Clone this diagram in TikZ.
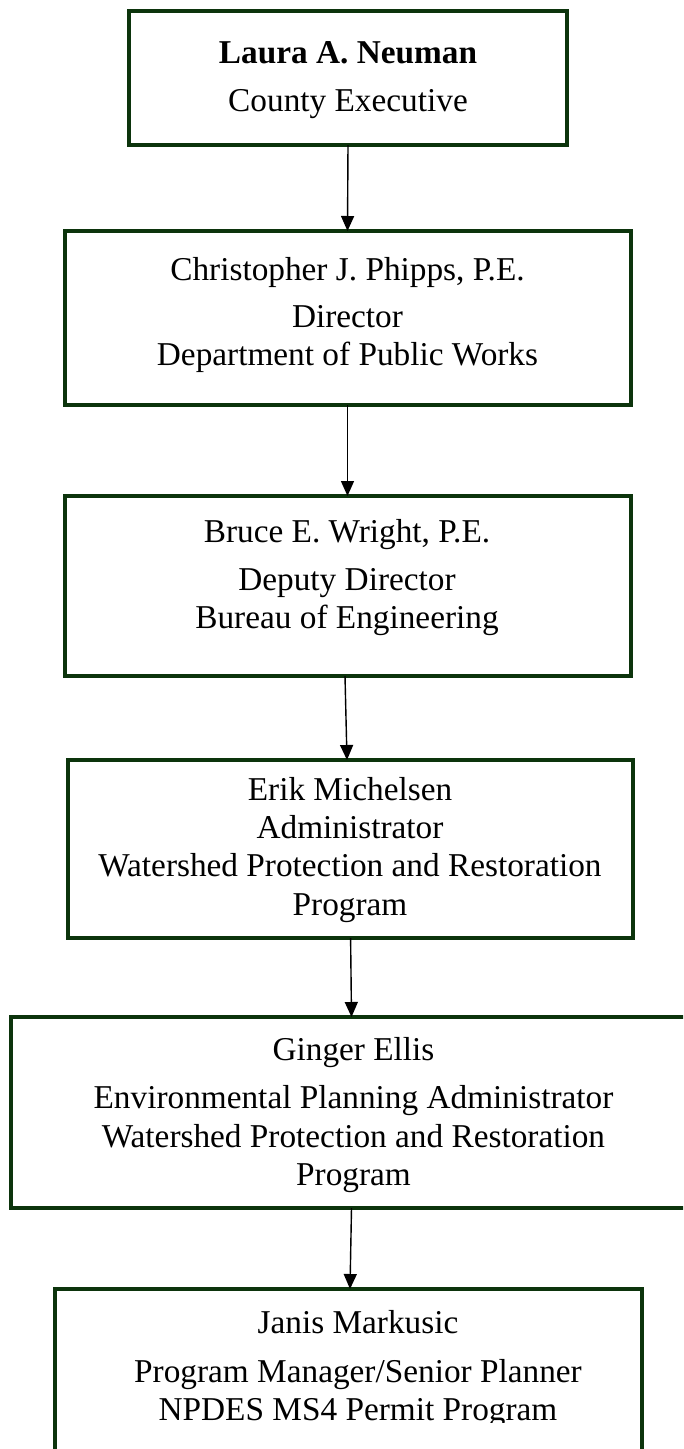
\documentclass[tikz,border=0pt]{standalone}
\usepackage{fontspec}
\setmainfont{Liberation Serif}
\usetikzlibrary{arrows.meta,calc}
\definecolor{boxgreen}{RGB}{12,52,12}
\begin{document}
\begin{tikzpicture}[x=1pt,y=-1pt,
  box/.style={draw=boxgreen,line width=4pt,rectangle,inner sep=0pt,outer sep=0pt},
  txt/.style={anchor=base,inner sep=0pt,font=\fontsize{33.3}{40}\selectfont},
  boldtxt/.style={txt,font=\fontsize{33.3}{40}\selectfont\bfseries},
  arr/.style={line width=1.4pt,-{Triangle[length=15pt,width=13pt]}}]
\clip (0,0) rectangle (683,1449);
\fill[white] (0,0) rectangle (683,1449);
% boxes
\node[box,minimum width=438pt,minimum height=134pt] (b1) at (348,78) {};
\node[box,minimum width=566pt,minimum height=174pt] (b2) at (347.5,318) {};
\node[box,minimum width=566pt,minimum height=180pt] (b3) at (347.5,586) {};
\node[box,minimum width=565.5pt,minimum height=178pt] (b4) at (350.25,849) {};
\node[box,minimum width=685pt,minimum height=191pt] (b5) at (353.5,1112.5) {};
\node[box,minimum width=587pt,minimum height=181pt] (b6) at (348.5,1379.5) {};
% texts
\node[boldtxt] (t1a) at (348,63) {Laura A. Neuman};
\node[txt] (t1b) at (348,111) {County Executive};
\node[txt] (t2a) at (347.5,280) {Christopher J. Phipps, P.E.};
\node[txt] (t2b) at (347.5,327) {Director};
\node[txt] (t2c) at (347.5,365) {Department of Public Works};
\node[txt] (t3a) at (347,542) {Bruce E. Wright, P.E.};
\node[txt] (t3b) at (347,590) {Deputy Director};
\node[txt] (t3c) at (347,628) {Bureau of Engineering};
\node[txt] (t4a) at (350,800) {Erik Michelsen};
\node[txt] (t4b) at (350,838) {Administrator};
\node[txt] (t4c) at (350,876) {Watershed Protection and Restoration};
\node[txt] (t4d) at (350,915) {Program};
\node[txt] (t5a) at (353.5,1060) {Ginger Ellis};
\node[txt] (t5b) at (353.5,1108) {Environmental Planning Administrator};
\node[txt] (t5c) at (353.5,1147) {Watershed Protection and Restoration};
\node[txt] (t5d) at (353.5,1185) {Program};
\node[txt] (t6a) at (358,1333) {Janis Markusic};
\node[txt] (t6b) at (358,1382) {Program Manager/Senior Planner};
\begin{scope}
\clip (0,0) rectangle (683,1422);
\node[txt] (t6c) at (358,1420) {NPDES MS4 Permit Program};
\end{scope}
% connectors
\draw[arr] (b1.south) -- (b2.north);
\draw[arr] (b2.south) -- (b3.north);
\draw[arr] ($(b3.south)+(-2.5,0)$) -- ($(b4.north)+(-3.25,0)$);
\draw[arr] ($(b4.south)+(0.35,0)$) -- ($(b5.north)+(-2,0)$);
\draw[arr] ($(b5.south)+(-2,0)$) -- ($(b6.north)+(1.5,0)$);
\end{tikzpicture}
\end{document}
